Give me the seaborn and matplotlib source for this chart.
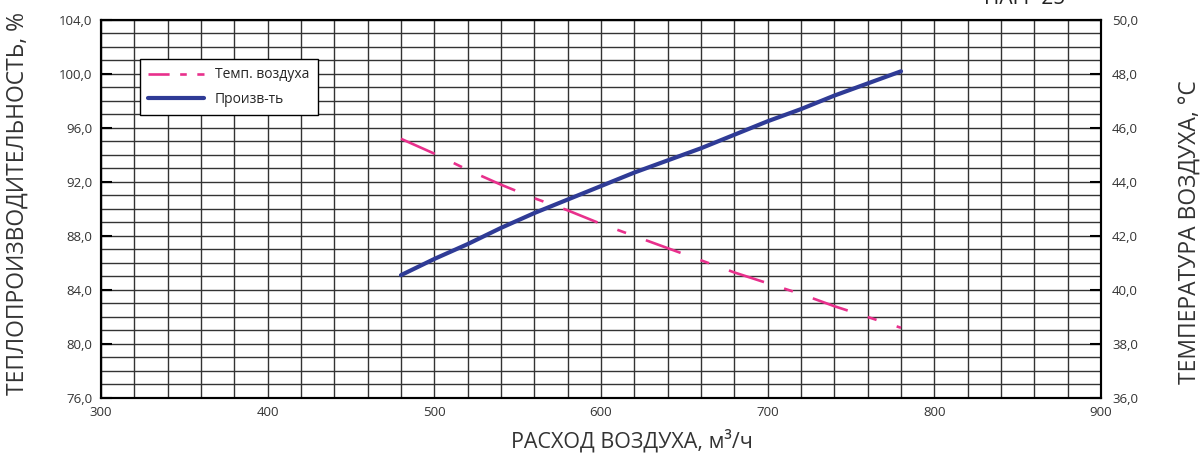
import numpy as np
import pandas as pd
import seaborn as sns
import matplotlib.pyplot as plt
from matplotlib.ticker import MultipleLocator, FuncFormatter
from matplotlib.lines import Line2D

# расход воздуха, м3/ч
airflow = [480, 500, 520, 540, 560, 580, 600, 620, 640, 660, 680, 700, 720, 740, 760, 780]
# теплопроизводительность, %
capacity = [85.1, 86.3, 87.4, 88.6, 89.7, 90.7, 91.7, 92.7, 93.6, 94.5, 95.5, 96.5, 97.4, 98.4, 99.3, 100.2]
# температура воздуха, °C
air_temp = [45.6, 45.05, 44.45, 43.9, 43.4, 42.95, 42.45, 42.0, 41.55, 41.1, 40.65, 40.25, 39.85, 39.4, 39.0, 38.6]

label_temp = "Темп. воздуха"
label_cap = "Произв-ть"

pink = "#e8308c"
blue = "#2f3b96"

sns.set_theme(style="white")
plt.rcParams["font.family"] = ["Open Sans", "DejaVu Sans"]

df = pd.DataFrame({"airflow": airflow, "capacity": capacity, "temp": air_temp})

fig = plt.figure(figsize=(12.01, 4.61), dpi=100)
ax = fig.add_axes([101 / 1201, 63 / 461, 1000 / 1201, 378 / 461])
ax2 = ax.twinx()

# сетка
ax.set_xlim(300, 900)
ax.set_ylim(76, 104)
ax2.set_ylim(36, 50)
ax.xaxis.set_major_locator(MultipleLocator(100))
ax.xaxis.set_minor_locator(MultipleLocator(20))
ax.yaxis.set_major_locator(MultipleLocator(4))
ax.yaxis.set_minor_locator(MultipleLocator(1))
ax2.yaxis.set_major_locator(MultipleLocator(2))
ax.grid(which="both", color="#333333", linewidth=1.0)
ax.set_axisbelow(True)

sns.lineplot(data=df, x="airflow", y="capacity", ax=ax, color=blue,
             linewidth=3.0, legend=False)
sns.lineplot(data=df, x="airflow", y="temp", ax=ax2, color=pink,
             linewidth=1.9, legend=False)
ax2.lines[0].set_dashes([14, 8, 3.5, 8])

fmt = FuncFormatter(lambda v, _: f"{v:.1f}".replace(".", ","))
ax.yaxis.set_major_formatter(fmt)
ax2.yaxis.set_major_formatter(fmt)
ax.xaxis.set_major_formatter(FuncFormatter(lambda v, _: f"{int(v)}"))

ax.tick_params(axis="both", which="major", direction="in", length=8, width=1.5,
               labelsize=9.5, colors="black", pad=6)
ax.tick_params(axis="both", which="minor", length=0)
ax2.tick_params(axis="y", which="major", direction="in", length=8, width=1.5,
                labelsize=9.5, colors="black", pad=8)
for lbl in ax.get_xticklabels() + ax.get_yticklabels() + ax2.get_yticklabels():
    lbl.set_color("#333333")

for a in (ax, ax2):
    for s in a.spines.values():
        s.set_color("black")
        s.set_linewidth(1.5)

ax.set_xlabel("РАСХОД ВОЗДУХА, м³/ч", fontsize=15.5, color="#333333")
ax.xaxis.set_label_coords(0.531, -0.082)
ax.set_ylabel("ТЕПЛОПРОИЗВОДИТЕЛЬНОСТЬ, %", fontsize=16.5, color="#333333")
ax.yaxis.set_label_coords(-0.071, 0.515)
ax2.set_ylabel("ТЕМПЕРАТУРА ВОЗДУХА, °С", fontsize=16.5, color="#333333",
               rotation=90)
ax2.yaxis.set_label_coords(1.078, 0.44)

handles = [
    Line2D([], [], color=pink, linewidth=1.9, dashes=[8, 4, 2.5, 4]),
    Line2D([], [], color=blue, linewidth=3.0),
]
leg = ax2.legend(handles, [label_temp, label_cap], loc="upper left",
                 bbox_to_anchor=(0.032, 0.915), fontsize=10, frameon=True,
                 fancybox=False, framealpha=1, edgecolor="black",
                 handlelength=4.0, borderpad=0.6, labelspacing=0.7)
leg.get_frame().set_linewidth(1.0)

fig.text(1025 / 1201, 1 - 4 / 461, "НАГР 25", fontsize=15, ha="center",
         va="baseline", color="#222222")

fig.savefig("out.png", dpi=100)
